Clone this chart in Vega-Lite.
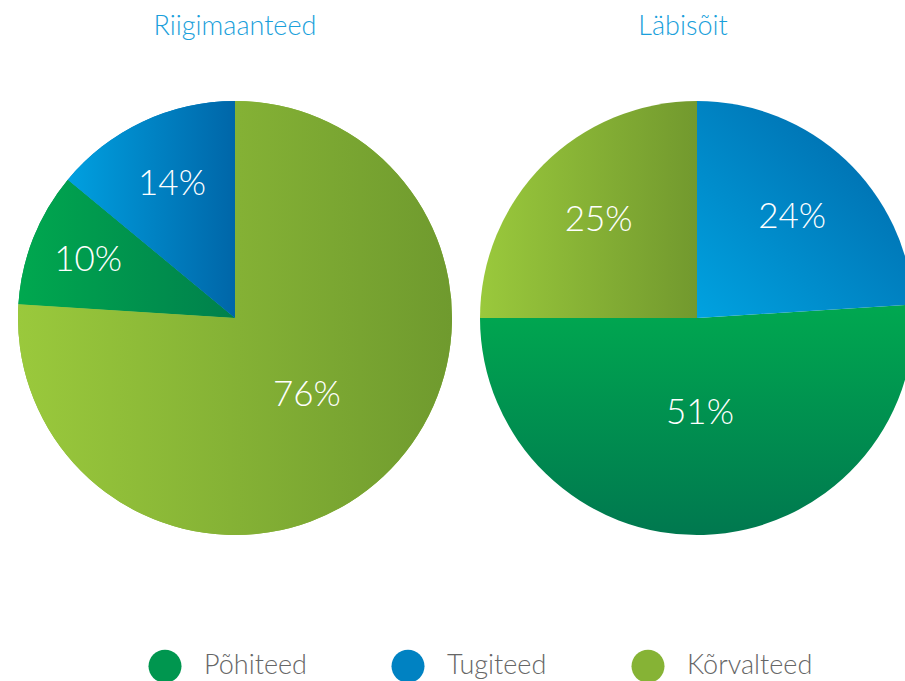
{
  "$schema": "https://vega.github.io/schema/vega-lite/v6.json",
  "background": "white",
  "padding": {"left": 18, "top": 13, "right": 0, "bottom": 0},
  "config": {
    "view": {"stroke": null},
    "font": "Lato",
    "title": {"fontSize": 27, "color": "#1a9fdb", "font": "Lato", "fontWeight": 300, "anchor": "middle", "baseline": "alphabetic", "offset": 60}
  },
  "datasets": {
    "shares": [
      {"panel": "Riigimaanteed", "category": "Kõrvalteed", "value": 0.76},
      {"panel": "Riigimaanteed", "category": "Põhiteed", "value": 0.10},
      {"panel": "Riigimaanteed", "category": "Tugiteed", "value": 0.14},
      {"panel": "Läbisõit", "category": "Tugiteed", "value": 0.24},
      {"panel": "Läbisõit", "category": "Põhiteed", "value": 0.51},
      {"panel": "Läbisõit", "category": "Kõrvalteed", "value": 0.25}
    ]
  },
  "data": {"name": "shares"},
  "bounds": "flush",
  "hconcat": [
    {
      "title": {"text": "Riigimaanteed"},
      "width": 434,
      "height": 434,
      "transform": [
        {"filter": "datum.panel === 'Riigimaanteed'"},
        {"window": [{"op": "row_number", "as": "rank"}]},
        {"stack": "value", "groupby": ["panel"], "sort": [{"field": "rank", "order": "ascending"}], "as": ["v0", "v1"]}
      ],
      "layer": [
        {
          "mark": {"type": "arc", "stroke": null},
          "encoding": {
            "theta": {"field": "v0", "type": "quantitative", "stack": null, "scale": {"domain": [0, 1]}},
            "theta2": {"field": "v1"},
            "color": {
              "field": "category",
              "type": "nominal",
              "scale": {"domain": ["Põhiteed", "Tugiteed", "Kõrvalteed"], "range": ["#00964f", "#0082c2", "#86b335"]},
              "legend": {
                "orient": "none",
                "legendX": 130,
                "legendY": 548,
                "direction": "horizontal",
                "title": null,
                "padding": 0,
                "symbolType": "circle",
                "symbolSize": 1090,
                "symbolStrokeWidth": 0,
                "symbolOpacity": 1,
                "labelFontSize": 27,
                "labelColor": "#666666",
                "labelFont": "Lato",
                "labelFontWeight": 300,
                "labelOffset": 22,
                "columnPadding": 84
              }
            }
          }
        },
        {
          "transform": [{"filter": "datum.category === 'Põhiteed'"}],
          "mark": {"type": "arc", "stroke": null, "color": {"gradient": "linear", "x1": 0, "y1": 0, "x2": 1, "y2": 0, "stops": [{"offset": 0, "color": "#00a84f"}, {"offset": 1, "color": "#00804c"}]}},
          "encoding": {
            "theta": {"field": "v0", "type": "quantitative", "stack": null},
            "theta2": {"field": "v1"}
          }
        },
        {
          "transform": [{"filter": "datum.category === 'Tugiteed'"}],
          "mark": {"type": "arc", "stroke": null, "color": {"gradient": "linear", "x1": 0, "y1": 0, "x2": 1, "y2": 0, "stops": [{"offset": 0, "color": "#00a0e0"}, {"offset": 1, "color": "#0066a8"}]}},
          "encoding": {
            "theta": {"field": "v0", "type": "quantitative", "stack": null},
            "theta2": {"field": "v1"}
          }
        },
        {
          "transform": [{"filter": "datum.category === 'Kõrvalteed'"}],
          "mark": {"type": "arc", "stroke": null, "color": {"gradient": "linear", "x1": 0, "y1": 0, "x2": 1, "y2": 0, "stops": [{"offset": 0, "color": "#9ac93c"}, {"offset": 1, "color": "#6f9a2e"}]}},
          "encoding": {
            "theta": {"field": "v0", "type": "quantitative", "stack": null},
            "theta2": {"field": "v1"}
          }
        },
        {
          "mark": {"type": "text", "fill": "white", "fontSize": 35, "font": "Lato", "fontWeight": 300},
          "encoding": {
            "theta": {"field": "value", "type": "quantitative", "stack": true},
            "order": {"field": "rank", "type": "quantitative"},
            "detail": {"field": "category", "type": "nominal"},
            "radius": {"field": "value", "type": "quantitative", "scale": {"type": "linear", "zero": false, "domain": [0.1, 0.14, 0.76], "range": [158, 148, 105]}},
            "text": {"field": "value", "type": "quantitative", "format": ".0%"}
          }
        }
      ]
    },
    {
      "title": {"text": "Läbisõit", "dx": -14},
      "width": 434,
      "height": 434,
      "transform": [
        {"filter": "datum.panel === 'Läbisõit'"},
        {"window": [{"op": "row_number", "as": "rank"}]},
        {"stack": "value", "groupby": ["panel"], "sort": [{"field": "rank", "order": "ascending"}], "as": ["v0", "v1"]}
      ],
      "layer": [
        {
          "transform": [{"filter": "datum.category === 'Põhiteed'"}],
          "mark": {"type": "arc", "stroke": null, "color": {"gradient": "linear", "x1": 0, "y1": 0, "x2": 0, "y2": 1, "stops": [{"offset": 0, "color": "#00a850"}, {"offset": 1, "color": "#00784f"}]}},
          "encoding": {
            "theta": {"field": "v0", "type": "quantitative", "stack": null, "scale": {"domain": [0, 1]}},
            "theta2": {"field": "v1"}
          }
        },
        {
          "transform": [{"filter": "datum.category === 'Tugiteed'"}],
          "mark": {"type": "arc", "stroke": null, "color": {"gradient": "linear", "x1": 0, "y1": 1, "x2": 1, "y2": 0, "stops": [{"offset": 0, "color": "#00a2e0"}, {"offset": 1, "color": "#0064a5"}]}},
          "encoding": {
            "theta": {"field": "v0", "type": "quantitative", "stack": null},
            "theta2": {"field": "v1"}
          }
        },
        {
          "transform": [{"filter": "datum.category === 'Kõrvalteed'"}],
          "mark": {"type": "arc", "stroke": null, "color": {"gradient": "linear", "x1": 0, "y1": 0, "x2": 1, "y2": 0, "stops": [{"offset": 0, "color": "#9ac93c"}, {"offset": 1, "color": "#72992e"}]}},
          "encoding": {
            "theta": {"field": "v0", "type": "quantitative", "stack": null},
            "theta2": {"field": "v1"}
          }
        },
        {
          "mark": {"type": "text", "fill": "white", "fontSize": 35, "font": "Lato", "fontWeight": 300},
          "encoding": {
            "theta": {"field": "value", "type": "quantitative", "stack": true},
            "order": {"field": "rank", "type": "quantitative"},
            "detail": {"field": "category", "type": "nominal"},
            "radius": {"field": "value", "type": "quantitative", "scale": {"type": "linear", "zero": false, "domain": [0.24, 0.25, 0.51], "range": [139, 139, 95]}},
            "text": {"field": "value", "type": "quantitative", "format": ".0%"}
          }
        }
      ]
    }
  ],
  "spacing": 28,
  "resolve": {"scale": {"color": "independent", "theta": "independent", "radius": "independent"}, "legend": {"color": "independent"}}
}
